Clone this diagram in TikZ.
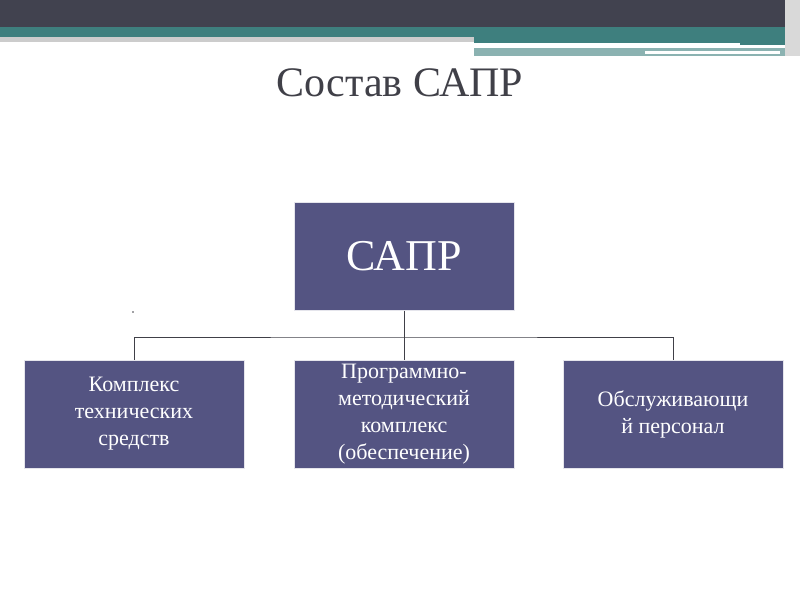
\documentclass[tikz,border=0pt]{standalone}
\usepackage{fontspec}
\setmainfont{Liberation Serif}
\definecolor{barDark}{HTML}{41424F}
\definecolor{barTeal}{HTML}{3E7F7E}
\definecolor{boxFill}{HTML}{545482}
\definecolor{titleGray}{HTML}{404048}
\tikzset{
  unitbox/.style={draw=white!85!boxFill,line width=1pt,fill=boxFill,text=white,
    minimum width=220pt,minimum height=108pt,align=center,inner sep=2pt},
  link/.style={draw=titleGray,line width=1pt}
}
\begin{document}
\begin{tikzpicture}[x=1pt,y=-1pt]
\useasboundingbox (0,0) rectangle (800,600);
% header bars
\fill[barDark] (0,0) rectangle (785,27);
\fill[barTeal] (0,27) rectangle (785,37);
\fill[barTeal] (474,37) rectangle (785,45);
\fill[gray!40] (0,37) rectangle (474,42);
\fill[barTeal!60] (474,48) rectangle (785,56);
\fill[white] (474,43) rectangle (740,46);
\fill[white] (645,51) rectangle (780,54);
\fill[gray!30] (785,0) rectangle (800,56);

\node[text=titleGray,font=\fontsize{42}{46}\selectfont] (title) at (400,83) {Состав САПР};

\node[unitbox,font=\fontsize{44}{48}\selectfont] (sapr) at (404,256) {САПР};
\node[unitbox,font=\fontsize{22}{27}\selectfont] (tech) at (134,414) {Комплекс\\технических\\средств};
\node[unitbox,font=\fontsize{22}{27}\selectfont] (prog) at (404,414) {Программно-\\методический\\комплекс\\(обеспечение)};
\node[unitbox,font=\fontsize{22}{27}\selectfont] (pers) at (673,414) {Обслуживающи\\й персонал};

\coordinate (hub) at (404,337);
\draw[link] (sapr.south) -- (hub);
\draw[link] (tech.north) |- (hub) -| (pers.north);
\draw[link] (hub) -- (prog.north);
\fill[titleGray] (133,312) circle (0.8);
\end{tikzpicture}
\end{document}
